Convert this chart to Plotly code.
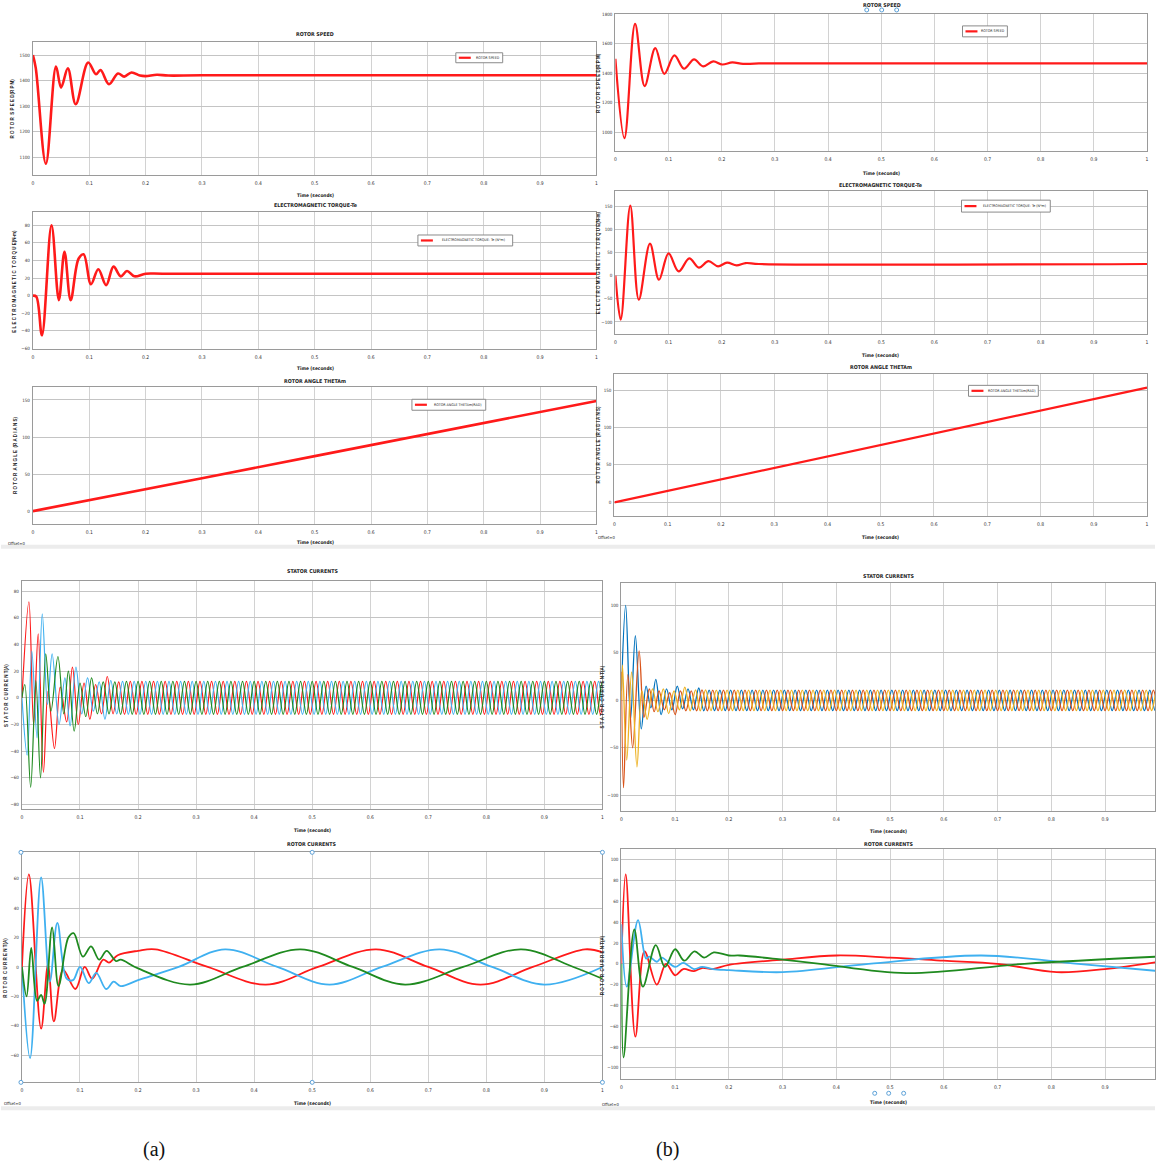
import plotly.graph_objects as go

W, H = 1157, 1164
NARROW = "Liberation Sans Narrow, DejaVu Sans Condensed, Arial Narrow, sans-serif"
WIDE = "Liberation Sans, Arial, sans-serif"

RED = "#ff1a1a"
SL_BLUE = "#3fb0f0"
SL_GREEN = "#1f8a1f"
ML_BLUE = "#0072BD"
ML_ORANGE = "#D95319"
ML_YELLOW = "#EDB120"

# ---------------- (a) machine responses ----------------
SPEED_A_T = [0, 0.005, 0.023, 0.041, 0.05, 0.062, 0.076, 0.098, 0.112, 0.12, 0.135,
             0.151, 0.162, 0.175, 0.19, 0.2, 0.22, 0.24, 0.3, 1.0]
SPEED_A_RPM = [1500, 1450, 1075, 1455, 1373, 1448, 1308, 1471, 1425, 1442, 1386,
               1428, 1416, 1432, 1420, 1418, 1423, 1420, 1421, 1421]

TORQUE_A_T = [0, 0.006, 0.016, 0.033, 0.046, 0.056, 0.067, 0.081, 0.09, 0.103, 0.116,
              0.13, 0.143, 0.156, 0.167, 0.18, 0.2, 0.23, 1.0]
TORQUE_A_NM = [0, -1, -45, 80, -5, 50, -5, 42, 47, 13, 30, 12, 33, 22, 28, 22, 25, 25, 25]

ANGLE_A_T = [0, 0.05, 0.1, 0.2, 0.3, 0.5, 0.7, 1.0]
ANGLE_A_RAD = [0, 7.3, 15, 29.7, 44.5, 74.2, 104, 148.7]

# stator current transient extrema (a), phases R / B / G
STATOR_A_R_T = [0, 0.012, 0.02, 0.028, 0.037, 0.045, 0.056, 0.066, 0.077, 0.087, 0.097,
                0.107, 0.117, 0.127, 0.137, 0.147, 0.157, 0.1667]
STATOR_A_R_V = [0, 72, -20, 48, -56, 5, -38, 8, -18, 23, -20, 11, -16, 10, -12, 16, -12, 12]
STATOR_A_B_T = [0, 0.009, 0.017, 0.026, 0.035, 0.044, 0.052, 0.064, 0.074, 0.083, 0.093,
                0.103, 0.113, 0.123, 0.133, 0.143, 0.153, 0.1633]
STATOR_A_B_V = [0, -43, 35, -30, 63, -5, 33, -20, 15, -21, 23, -12, 15, -10, 12, -16, 13, -12]
STATOR_A_G_T = [0, 0.005, 0.015, 0.024, 0.032, 0.041, 0.05, 0.062, 0.072, 0.08, 0.09,
                0.1, 0.11, 0.12, 0.13, 0.14, 0.15, 0.16]
STATOR_A_G_V = [0, 10, -67, 13, -60, 33, -10, 31, -12, 20, -25, 11, -14, 15, -12, 12, -12, 12]
STATOR_A_PEAK = 12.3

ROTOR_A_R_T = [0, 0.012, 0.033, 0.045, 0.055, 0.071, 0.092, 0.108, 0.121, 0.14, 0.15, 0.165,
               0.2, 0.23, 0.32, 0.42, 0.51, 0.61, 0.70, 0.79, 0.88, 0.97, 1.0]
ROTOR_A_R_V = [0, 63, -42, 2, -37, -2, -15, 0, -8, 5, 3, 8, 11, 12, 0, -12, 0, 12, 0, -12, 0, 12, 10]
ROTOR_A_B_T = [0, 0.014, 0.033, 0.048, 0.061, 0.077, 0.088, 0.1, 0.115, 0.128, 0.145, 0.158,
               0.17, 0.2, 0.27, 0.35, 0.44, 0.53, 0.62, 0.72, 0.81, 0.9, 1.0]
ROTOR_A_B_V = [0, -62, 61, -10, 30, -8, -9, 0, -11, -4, -15, -10, -13, -9, 0, 12, 0, -12, 0, 12, 0, -12, 0]
ROTOR_A_G_T = [0, 0.008, 0.016, 0.026, 0.033, 0.039, 0.052, 0.063, 0.08, 0.089, 0.105, 0.119,
               0.133, 0.146, 0.162, 0.17, 0.2, 0.29, 0.38, 0.48, 0.57, 0.66, 0.76, 0.86, 0.95, 1.0]
ROTOR_A_G_V = [0, -20, 13, -23, -19, -25, 27, -13, 20, 23, 7, 14, 5, 11, 4, 5, -1, -12, 0, 12,
               0, -12, 0, 12, 0, -8]

# ---------------- (b) machine responses ----------------
SPEED_B_T = [0, 0.017, 0.037, 0.055, 0.075, 0.092, 0.111, 0.129, 0.148, 0.165, 0.184,
             0.201, 0.22, 0.24, 0.27, 1.0]
SPEED_B_RPM = [1497, 960, 1733, 1312, 1569, 1395, 1519, 1429, 1492, 1445, 1479,
               1458, 1472, 1462, 1465, 1465]

TORQUE_B_T = [0, 0.01, 0.028, 0.044, 0.065, 0.082, 0.1, 0.119, 0.139, 0.157, 0.175,
              0.193, 0.21, 0.228, 0.245, 0.27, 1.0]
TORQUE_B_NM = [0, -95, 151, -52, 69, -9, 48, 9, 37, 17, 31, 20, 28, 22, 27, 25, 25]

ANGLE_B_T = [0, 0.05, 0.1, 0.2, 0.3, 0.5, 0.7, 1.0]
ANGLE_B_RAD = [0, 7.7, 15.5, 30.8, 46, 76.7, 107.4, 153.4]

STATOR_B_BL_T = [0, 0.008, 0.017, 0.026, 0.037, 0.046, 0.055, 0.064, 0.074, 0.084, 0.094,
                 0.104, 0.114, 0.124, 0.134, 0.144, 0.1533]
STATOR_B_BL_V = [10, 100, -20, 68, -30, 15, -8, 22, -15, 12, -10, 15, -9, 12, -10, 13, -11]
STATOR_B_OR_T = [0, 0.004, 0.012, 0.021, 0.033, 0.042, 0.052, 0.061, 0.07, 0.08, 0.09,
                 0.1, 0.11, 0.12, 0.13, 0.14, 0.15, 0.16]
STATOR_B_OR_V = [30, -92, 27, -50, 52, -18, 12, -12, 10, -10, 8, -15, 10, -11, 10, -11, 11, -11]
STATOR_B_YE_T = [0, 0.002, 0.01, 0.019, 0.029, 0.038, 0.048, 0.058, 0.068, 0.078, 0.088,
                 0.098, 0.108, 0.118, 0.128, 0.138, 0.1467, 0.1567]
STATOR_B_YE_V = [0, 37, -63, 30, -70, 10, -20, 12, -12, 12, -14, 10, -10, 14, -11, 11, -11, 11]
STATOR_B_PEAK = 10.8

ROTOR_B_R_T = [0, 0.008, 0.026, 0.043, 0.066, 0.083, 0.1, 0.115, 0.135, 0.15, 0.17, 0.2,
               0.3, 0.4, 0.5, 0.6, 0.7, 0.81, 0.9, 1.0]
ROTOR_B_R_V = [0, 86, -70, 12, -20, 0, -11, -5, -7, -4, -5, -1, 4, 8, 6, 3, 0, -8, -5, 2]
ROTOR_B_B_T = [0, 0.01, 0.031, 0.046, 0.052, 0.066, 0.075, 0.1, 0.115, 0.135, 0.15, 0.17,
               0.2, 0.3, 0.46, 0.67, 0.85, 1.0]
ROTOR_B_B_V = [38, -22, 42, 5, 7, 2, 6, -3, 1, -5, -3, -5, -6, -8, 0, 8, 0, -7]
ROTOR_B_G_T = [0, 0.004, 0.024, 0.04, 0.064, 0.081, 0.1, 0.117, 0.136, 0.154, 0.172, 0.2,
               0.22, 0.3, 0.37, 0.53, 0.75, 1.0]
ROTOR_B_G_V = [0, -90, 33, -22, 18, -3, 14, 3, 12, 6, 11, 8, 8, 4, 0, -9, 0, 7]

SUPPLY_HZ = 50
TIME_TICKS = [0, 0.1, 0.2, 0.3, 0.4, 0.5, 0.6, 0.7, 0.8, 0.9, 1]
TIME_TICK_TEXT = ["0", "0.1", "0.2", "0.3", "0.4", "0.5", "0.6", "0.7", "0.8", "0.9", "1"]

LEGEND_SPEED = "ROTOR SPEED"
LEGEND_TORQUE = "ELECTROMAGNETIC TORQUE- Te (N*m)"
LEGEND_ANGLE = "ROTOR ANGLE THETAm(RAD)"


def with_steady_state(ts, vs, peak, t_end=1.02):
    """Continue a phase current past its transient with alternating supply-frequency peaks."""
    ts, vs = list(ts), list(vs)
    half = 0.5 / SUPPLY_HZ
    sign = -1 if vs[-1] > 0 else 1
    t = ts[-1] + half
    while t <= t_end:
        ts.append(round(t, 5))
        vs.append(sign * peak)
        sign = -sign
        t += half
    return ts, vs


# ---------------- panel layout (pixel boxes: x0, x1, y0, y1) ----------------
panels = [
    dict(box=(32, 597, 40, 174), xr=[0, 1], yr=[1030, 1552], yt=[1100, 1200, 1300, 1400, 1500]),
    dict(box=(32, 597, 211, 348), xr=[0, 1], yr=[-60, 95], yt=[-60, -40, -20, 0, 20, 40, 60, 80]),
    dict(box=(32, 597, 387, 524), xr=[0, 1], yr=[-17, 167], yt=[0, 50, 100, 150]),
    dict(box=(616, 1149, 12, 150), xr=[0, 1], yr=[870, 1800], yt=[1000, 1200, 1400, 1600, 1800]),
    dict(box=(616, 1149, 190, 333), xr=[0, 1], yr=[-125, 182], yt=[-100, -50, 0, 50, 100, 150]),
    dict(box=(615, 1149, 374, 516), xr=[0, 1], yr=[-18, 171], yt=[0, 50, 100, 150]),
    dict(box=(21, 603, 581, 810), xr=[0, 1], yr=[-83, 88], yt=list(range(-80, 81, 20))),
    dict(box=(622, 1157, 584, 812), xr=[0, 0.993], yr=[-116, 123], yt=[-100, -50, 0, 50, 100]),
    dict(box=(21, 603, 854, 1085), xr=[0, 1], yr=[-78.5, 78], yt=list(range(-60, 61, 20))),
    dict(box=(622, 1157, 851, 1082), xr=[0, 0.993], yr=[-111, 110], yt=list(range(-100, 101, 20))),
]

fig = go.Figure()


def add_line(idx, t, v, color, width, shape="spline"):
    ref = "" if idx == 1 else str(idx)
    fig.add_trace(go.Scatter(
        x=t, y=v, mode="lines", xaxis="x" + ref, yaxis="y" + ref,
        line=dict(color=color, width=width, shape=shape, smoothing=1.0),
        showlegend=False, hoverinfo="skip"))


add_line(1, SPEED_A_T, SPEED_A_RPM, RED, 2.6)
add_line(2, TORQUE_A_T, TORQUE_A_NM, RED, 2.6)
add_line(3, ANGLE_A_T, ANGLE_A_RAD, RED, 2.6, shape="linear")
add_line(4, SPEED_B_T, SPEED_B_RPM, RED, 2.2)
add_line(5, TORQUE_B_T, TORQUE_B_NM, RED, 2.2)
add_line(6, ANGLE_B_T, ANGLE_B_RAD, RED, 2.2, shape="linear")

for t, v, c in [(STATOR_A_R_T, STATOR_A_R_V, RED),
                (STATOR_A_B_T, STATOR_A_B_V, SL_BLUE),
                (STATOR_A_G_T, STATOR_A_G_V, SL_GREEN)]:
    tt, vv = with_steady_state(t, v, STATOR_A_PEAK)
    add_line(7, tt, vv, c, 1.2)

for t, v, c in [(STATOR_B_BL_T, STATOR_B_BL_V, ML_BLUE),
                (STATOR_B_OR_T, STATOR_B_OR_V, ML_ORANGE),
                (STATOR_B_YE_T, STATOR_B_YE_V, ML_YELLOW)]:
    tt, vv = with_steady_state(t, v, STATOR_B_PEAK)
    add_line(8, tt, vv, c, 1.3)

add_line(9, ROTOR_A_R_T, ROTOR_A_R_V, RED, 1.8)
add_line(9, ROTOR_A_B_T, ROTOR_A_B_V, SL_BLUE, 1.8)
add_line(9, ROTOR_A_G_T, ROTOR_A_G_V, SL_GREEN, 1.8)
add_line(10, ROTOR_B_R_T, ROTOR_B_R_V, RED, 1.8)
add_line(10, ROTOR_B_B_T, ROTOR_B_B_V, SL_BLUE, 1.8)
add_line(10, ROTOR_B_G_T, ROTOR_B_G_V, SL_GREEN, 1.8)

layout = dict(
    width=W, height=H, margin=dict(l=0, r=0, t=0, b=0),
    paper_bgcolor="white", plot_bgcolor="white", hovermode=False, showlegend=False,
)

for i, p in enumerate(panels, start=1):
    x0, x1, y0, y1 = p["box"]
    ref = "" if i == 1 else str(i)
    xt = [v for v in TIME_TICKS if v <= p["xr"][1] + 1e-9]
    layout["xaxis" + ref] = dict(
        domain=[x0 / W, x1 / W], range=p["xr"], anchor="y" + ref,
        tickvals=xt, ticktext=TIME_TICK_TEXT[:len(xt)],
        showgrid=True, gridcolor="#d2d2d2", gridwidth=1.3,
        showline=True, linecolor="#9a9a9a", linewidth=1.2, mirror=True,
        zeroline=False, ticks="", ticklabelstandoff=3,
        tickfont=dict(size=5, family=NARROW, color="#333"))
    layout["yaxis" + ref] = dict(
        domain=[1 - y1 / H, 1 - y0 / H], range=p["yr"], anchor="x" + ref,
        tickvals=p["yt"], tickformat="d", showgrid=True, gridcolor="#c4c4c4", gridwidth=1.3,
        showline=True, linecolor="#9a9a9a", linewidth=1.2, mirror=True,
        zeroline=False, ticks="", ticklabelstandoff=1,
        tickfont=dict(size=4.5, family=NARROW, color="#333"))

annotations = []
shapes = []


def label(text, x, y, size, bold=False, angle=0, family=NARROW, color="#222", anchor="center"):
    annotations.append(dict(
        text=f"<b>{text}</b>" if bold else text, x=x / W, y=1 - y / H,
        xref="paper", yref="paper", showarrow=False, textangle=angle,
        xanchor=anchor, yanchor="middle",
        font=dict(size=size, family=family, color=color)))


def legend_box(text, x0, x1, y0, y1, sample_len=12):
    """Scope-style legend: framed box with a short red sample line and its label."""
    shapes.append(dict(type="rect", xref="paper", yref="paper",
                       x0=x0 / W, x1=x1 / W, y0=1 - y1 / H, y1=1 - y0 / H,
                       fillcolor="white", line=dict(color="#8a8a8a", width=1)))
    ym = (y0 + y1) / 2
    shapes.append(dict(type="line", xref="paper", yref="paper",
                       x0=(x0 + 3) / W, x1=(x0 + 3 + sample_len) / W,
                       y0=1 - ym / H, y1=1 - ym / H, line=dict(color=RED, width=2.2)))
    label(text, (x0 + 5 + sample_len + x1) / 2, ym, 3.6)


legend_box(LEGEND_SPEED, 456, 503, 51, 61)
legend_box(LEGEND_TORQUE, 418, 513, 234, 245)
legend_box(LEGEND_ANGLE, 412, 486, 399, 410)
legend_box(LEGEND_SPEED, 964, 1009, 24, 35)
legend_box(LEGEND_TORQUE, 963, 1052, 199, 211)
legend_box(LEGEND_ANGLE, 970, 1040, 385, 396)

# scope titles
for text, x, y in [("ROTOR SPEED", 315, 32), ("ELECTROMAGNETIC TORQUE-Te", 315, 204),
                   ("ROTOR ANGLE THETAm", 315, 381), ("ROTOR SPEED", 883, 3),
                   ("ELECTROMAGNETIC TORQUE-Te", 882, 184), ("ROTOR ANGLE THETAm", 882, 367),
                   ("STATOR CURRENTS", 312, 571), ("STATOR CURRENTS", 890, 576),
                   ("ROTOR CURRENTS", 312, 846), ("ROTOR CURRENTS", 890, 846)]:
    label(text, x, y, 5.3, bold=True)

# time axis captions
for x, y in [(315, 194), (315, 368), (315, 543), (883, 172), (882, 355), (882, 538),
             (312, 832), (890, 833), (312, 1106), (890, 1105)]:
    label("<b>Time (seconds)</b>", x, y, 4.8)

for x, y in [(16, 544), (607, 538), (12, 1106), (611, 1107)]:
    label("Offset=0", x, y, 4.2)

# vertical axis titles
for text, x, y in [("R O T O R  S P E E D(R P M)", 12, 107),
                   ("E L E C T R O M A G N E T I C  T O R Q U E(N-m)", 14, 280),
                   ("R O T O R  A N G L E  (R A D I A N S)", 14, 455),
                   ("R O T O R  S P E E D(R P M)", 599, 81),
                   ("E L E C T R O M A G N E T I C  T O R Q U E(N-m)", 599, 262),
                   ("R O T O R  A N G L E  (R A D I A N S)", 599, 445),
                   ("S T A T O R  C U R R E N T(A)", 5, 696),
                   ("S T A T O R  C U R R E N T(A)", 603, 698),
                   ("R O T O R  C U R R E N T(A)", 5, 970),
                   ("R O T O R  C U R R E N T(A)", 603, 967)]:
    label(text, x, y, 4.5, bold=True, angle=-90, family=WIDE)

# sub-figure captions
label("(a)", 153, 1152, 20, family="Liberation Serif, Times New Roman, serif", color="#111")
label("(b)", 668, 1152, 20, family="Liberation Serif, Times New Roman, serif", color="#111")

layout["annotations"] = annotations

# scope status bars below the lower axes
for (x0, x1, y0, y1) in [(0, 1157, 545, 549), (0, 1157, 1109, 1113)]:
    shapes.append(dict(type="rect", xref="paper", yref="paper",
                       x0=x0 / W, x1=x1 / W, y0=1 - y1 / H, y1=1 - y0 / H,
                       fillcolor="#ececec", line=dict(width=0), layer="below"))
# selection handles on the scope frames
for cx, cy in [(20, 854), (312, 854), (603, 854), (20, 1085), (312, 1085), (603, 1085),
               (868, 8), (883, 8), (898, 8), (876, 1096), (890, 1096), (905, 1096)]:
    shapes.append(dict(type="circle", xref="paper", yref="paper",
                       x0=(cx - 2) / W, x1=(cx + 2) / W, y0=1 - (cy + 2) / H, y1=1 - (cy - 2) / H,
                       fillcolor="white", line=dict(color="#5aa0d8", width=1)))
layout["shapes"] = shapes

fig.update_layout(**layout)
fig.write_html("out.html")
